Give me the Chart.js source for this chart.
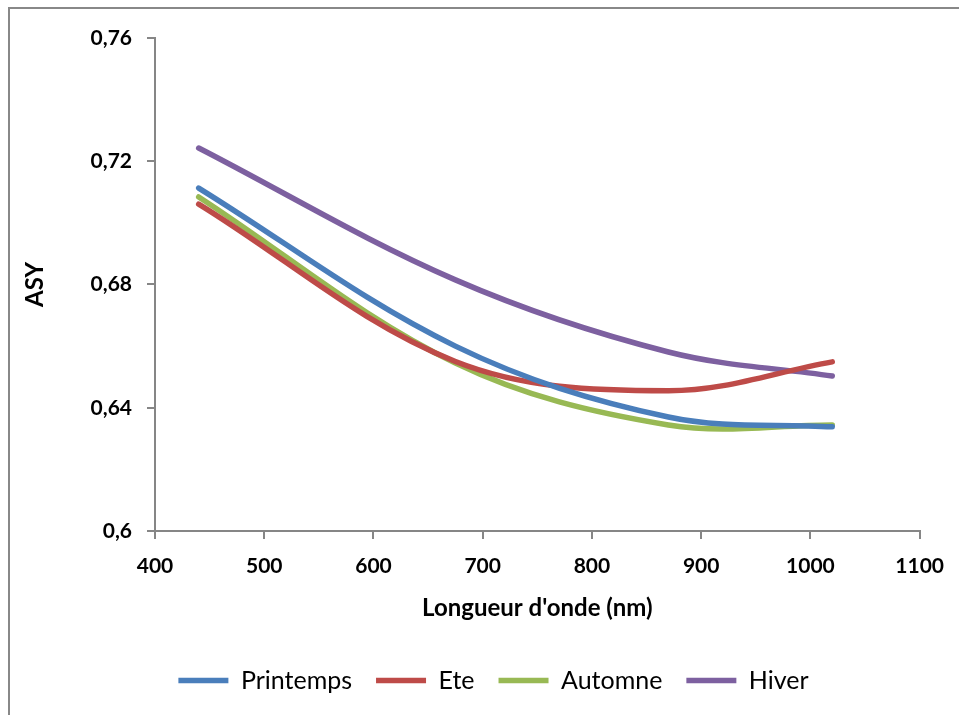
<!DOCTYPE html>
<html>
<head>
<meta charset="utf-8">
<script src="https://cdn.jsdelivr.net/npm/chart.js@4/dist/chart.umd.min.js"></script>
<style>
  html, body { margin: 0; padding: 0; background: #ffffff; overflow: hidden; }
  #frame { position: absolute; left: 8px; top: 7px; width: 1000px; height: 800px;
           border-left: 2px solid #888888; border-top: 2px solid #888888; }
  #wrap { position: absolute; left: 0; top: 0; width: 959px; height: 715px; }
</style>
</head>
<body>
<div id="frame"></div>
<div id="wrap"><canvas id="c" width="959" height="715"></canvas></div>
<script>
// Wavelengths (nm)
const wavelengths = [440, 675, 870, 1020];
// Series values (ASY)
const printemps = [0.7113, 0.6600, 0.6370, 0.6338];
const ete       = [0.7061, 0.6550, 0.6455, 0.6549];
const automne   = [0.7084, 0.6545, 0.6344, 0.6344];
const hiver     = [0.7243, 0.6815, 0.6581, 0.6503];
// Series names
const seriesNames = ['Printemps', 'Ete', 'Automne', 'Hiver'];
// Tick labels
const xTicks = [400, 500, 600, 700, 800, 900, 1000, 1100];
const yTicks = ['0,6', '0,64', '0,68', '0,72', '0,76'];

const colors = ['#4A7EBB', '#BE4B48', '#98B954', '#7D60A0'];
const seriesValues = [printemps, ete, automne, hiver];

const datasets = seriesValues.map((vals, i) => ({
  label: seriesNames[i],
  data: wavelengths.map((w, j) => ({ x: w, y: vals[j] })),
  borderColor: colors[i],
  backgroundColor: colors[i],
  borderWidth: 5.5,
  borderCapStyle: 'round',
  borderJoinStyle: 'round',
  pointRadius: 0,
  pointHoverRadius: 0,
  tension: 0.35,
  fill: false
}));

const axisGray = '#868686';

const legendShift = {
  id: 'legendShift',
  afterLayout(chart) {
    if (chart.legend) { chart.legend.left += 16; chart.legend.right += 16; }
  }
};

new Chart(document.getElementById('c'), {
  type: 'line',
  data: { datasets },
  plugins: [legendShift],
  options: {
    responsive: false,
    animation: false,
    events: [],
    layout: { padding: { left: 0, right: 4, top: 38, bottom: 12 } },
    plugins: {
      tooltip: { enabled: false },
      legend: {
        position: 'bottom',
        labels: {
          usePointStyle: true,
          pointStyle: 'line',
          pointStyleWidth: 50,
          boxHeight: 24,
          padding: 24,
          color: '#000000',
          font: { family: 'Lato', size: 25 }
        }
      }
    },
    scales: {
      x: {
        type: 'linear',
        min: 400,
        max: 1100,
        afterFit: (s) => { s.height = 113; },
        afterBuildTicks: (s) => { s.ticks = xTicks.map(v => ({ value: v })); },
        border: { display: true, color: axisGray, width: 2 },
        grid: { display: true, drawOnChartArea: false, drawTicks: true, tickLength: 8, color: axisGray, lineWidth: 2 },
        ticks: {
          padding: 15,
          color: '#000000',
          font: { family: 'Lato', size: 21, weight: 'bold' },
          maxRotation: 0,
          callback: (v) => String(v)
        },
        title: {
          display: true,
          text: "Longueur d'onde (nm)",
          color: '#000000',
          font: { family: 'Lato', size: 24, weight: 'bold' },
          padding: { top: 4, bottom: 21 }
        }
      },
      y: {
        type: 'linear',
        min: 0.6,
        max: 0.76,
        afterFit: (s) => { s.width = 155; },
        afterBuildTicks: (s) => { s.ticks = yTicks.map(t => ({ value: parseFloat(t.replace(',', '.')) })); },
        border: { display: true, color: axisGray, width: 2 },
        grid: { display: true, drawOnChartArea: false, drawTicks: true, tickLength: 8, color: axisGray, lineWidth: 2 },
        ticks: {
          padding: 15,
          color: '#000000',
          font: { family: 'Lato', size: 21, weight: 'bold' },
          callback: (v) => {
            const idx = yTicks.findIndex(t => Math.abs(parseFloat(t.replace(',', '.')) - v) < 1e-6);
            return idx >= 0 ? yTicks[idx] : '';
          }
        },
        title: {
          display: true,
          text: 'ASY',
          color: '#000000',
          font: { family: 'Lato', size: 24, weight: 'bold' },
          padding: { top: 21, bottom: 0 }
        }
      }
    }
  }
});
</script>
</body>
</html>
